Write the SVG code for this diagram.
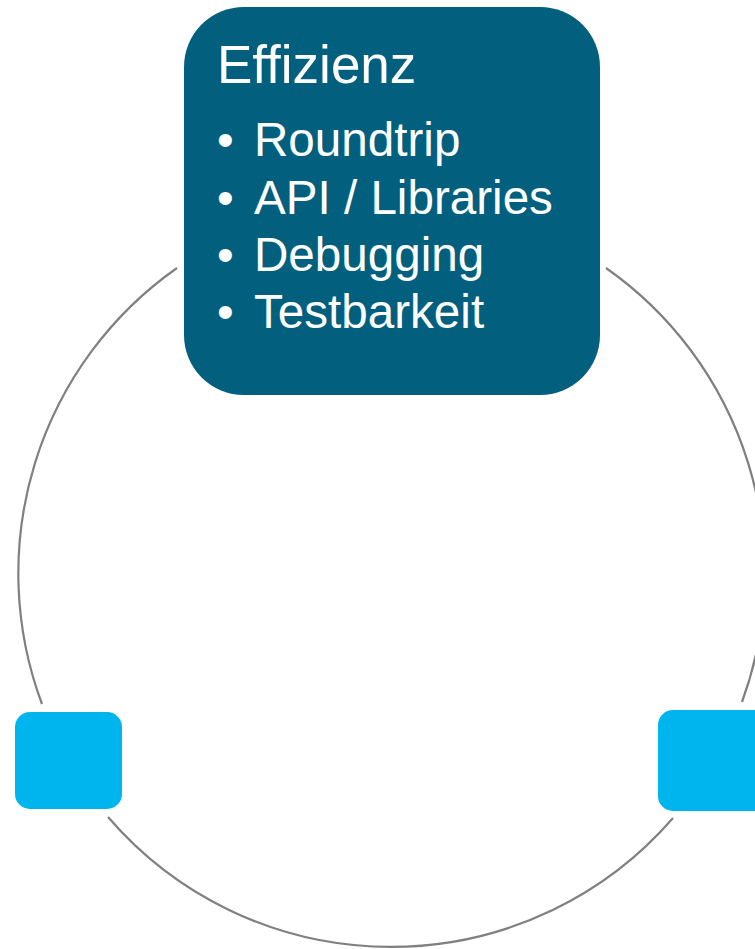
<svg xmlns="http://www.w3.org/2000/svg" width="755" height="949" viewBox="0 0 755 949">
<style>
.arc{fill:none;stroke:#808080;stroke-width:2.2}
.t{font-family:"Liberation Sans",Arial,sans-serif;fill:#ffffff}
</style>
<rect width="755" height="949" fill="#ffffff"/>
<g id="connectors">
<path class="arc" d="M177,268 A373,373 0 0 0 42,704"/>
<path class="arc" d="M108,817 A373,373 0 0 0 673,818"/>
<path class="arc" d="M742,702 A373,373 0 0 0 606,268"/>
</g>
<g id="node-effizienz">
<rect x="184" y="7" width="416" height="388" rx="60" ry="60" fill="#035F7E"/>
<text class="t" x="217" y="83" font-size="53">Effizienz</text>
<text class="t" font-size="47.6">
<tspan x="217" y="156">•</tspan><tspan x="254" y="156">Roundtrip</tspan>
<tspan x="217" y="214">•</tspan><tspan x="254" y="214">API / Libraries</tspan>
<tspan x="217" y="271">•</tspan><tspan x="254" y="271">Debugging</tspan>
<tspan x="217" y="328">•</tspan><tspan x="254" y="328">Testbarkeit</tspan>
</text>
</g>
<g id="node-left">
<rect x="15" y="712" width="107" height="97" rx="15" ry="15" fill="#00B4EE"/>
</g>
<g id="node-right">
<rect x="658" y="710" width="120" height="101" rx="15" ry="15" fill="#00B4EE"/>
</g>
</svg>
